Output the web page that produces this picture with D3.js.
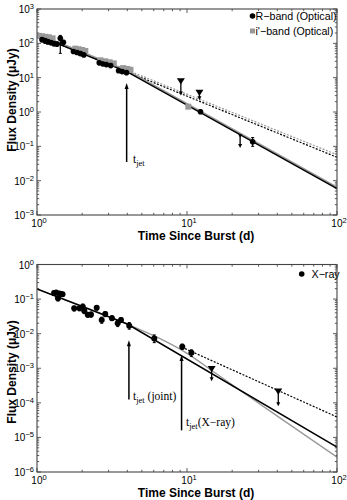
<!DOCTYPE html>
<html><head><meta charset="utf-8">
<script src="https://cdn.jsdelivr.net/npm/d3@7"></script>
<style>body{margin:0;background:#fff}svg{display:block}</style>
</head><body>
<script>
// ---------- Top panel data (optical) ----------
const rTime = [1.08,1.13,1.18,1.24,1.30,1.36,1.43,1.50, 1.75,1.85,1.95,2.05, 2.6,2.75,2.9,3.1, 3.5,3.7,3.95, 12.3, 27.4];
const rFlux = [128,120,112,105,98,95,140,108, 58,54,50,46, 27,25,24,22.5, 16,15,14, 1.02, 0.136];
const rErrLo = [110,100,95,90,85,82,51,95, 52,48,45,42, 24,22.5,21.5,20, 14.5,13.5,12.5, 0.9, 0.1];
const rErrHi = [145,138,128,120,112,108,170,122, 64,60,55,51, 30,28,26.5,25, 17.5,16.5,15.5, 1.15, 0.18];
const iTime = [1.03,1.08,1.14,1.2,1.27, 1.8,1.9,2.0,2.1, 2.65,2.85,3.05,3.25, 3.75,4.0,4.2, 10.2];
const iFlux = [165,160,155,150,140, 70,67,64,60, 32,30,28,26, 19,18,17, 1.43];
const rLimTime = [9.1, 12.1, 22.6];
const rLimFlux = [7.6, 3.5, 0.2];
const rLimArrow = [3.0, 2.2, 0.09];
const rFitTime = [1, 4, 100],  rFitFlux = [174, 14.8, 0.0059];
const iFitTime = [1, 4, 100],  iFitFlux = [191, 16.3, 0.0065];
const rDotTime = [1, 100],     rDotFlux = [174, 0.048];
const iDotTime = [1, 100],     iDotFlux = [191, 0.057];
const topJet = {t: 3.96, from: 0.035, to: 7};

// ---------- Bottom panel data (X-ray) ----------
const xTime = [1.30,1.34,1.38,1.41,1.45,1.48, 1.77,1.92,2.02,2.07,2.18,2.29, 2.5,2.7,2.85,3.16,3.45,3.63,4.12, 6.05, 9.3, 10.7];
const xFlux = [0.15,0.156,0.105,0.146,0.14,0.137, 0.054,0.054,0.060,0.045,0.035,0.036, 0.056,0.025,0.037,0.028,0.020,0.025,0.017, 0.0072, 0.0042, 0.0028];
const xErrLo = [0.13,0.14,0.088,0.13,0.125,0.12, 0.045,0.046,0.045,0.038,0.03,0.03, 0.048,0.02,0.031,0.024,0.016,0.021,0.0135, 0.0055, 0.0035, 0.0022];
const xErrHi = [0.17,0.172,0.12,0.162,0.155,0.152, 0.062,0.062,0.072,0.052,0.041,0.042, 0.064,0.03,0.043,0.033,0.024,0.029,0.021, 0.0092, 0.005, 0.0034];
const xLimTime = [14.6, 40.6];
const xLimFlux = [0.00092, 0.000205];
const xLimArrow = [0.00042, 0.00008];
const jointFitTime = [1, 4, 100],   jointFitFlux = [0.195, 0.019, 5.25e-6];
const xrayFitTime = [1, 3.98, 6.31, 10, 15.8, 39.8, 100];
const xrayFitFlux = [0.195, 0.019, 0.0079, 0.0027, 0.00068, 4.2e-5, 2.7e-6];
const xDotTime = [9.7, 100],        xDotFlux = [0.0037, 3.9e-5];
const jointJet = {t: 4.1, from: 1.24e-4, to: 0.0065};
const xrayJet = {t: 9.2, from: 1.6e-5, to: 0.0024};

const xTicks = [1, 10, 100];

const W = 347, H = 500;
const svg = d3.select("body").append("svg").attr("width", W).attr("height", H)
  .style("font-family", "Liberation Sans, Arial, sans-serif");

function powLabel(sel, e) {
  sel.append("tspan").text("10");
  sel.append("tspan").attr("dy", -4).attr("font-size", 7.5)
    .text(String(e).replace("-", "\u2212"));
}

function drawPanel(cfg) {
  const x = d3.scaleLog().domain([1, 100]).range([37, 337]);
  const y = d3.scaleLog().domain(cfg.yDom).range([cfg.y1, cfg.y0]);
  const g = svg.append("g");
  const clipId = "clip" + cfg.id;
  svg.append("clipPath").attr("id", clipId).append("rect")
    .attr("x", 37).attr("y", cfg.y0).attr("width", 300).attr("height", cfg.y1 - cfg.y0);

  // ticks (inside, all four sides)
  const tk = g.append("g").attr("stroke", "#333").attr("stroke-width", 0.8);
  x.ticks().forEach(v => {
    const major = Math.abs(Math.log10(v) - Math.round(Math.log10(v))) < 1e-9;
    const L = major ? 4 : 2.2, px = x(v);
    tk.append("line").attr("x1", px).attr("x2", px).attr("y1", cfg.y1).attr("y2", cfg.y1 - L);
    tk.append("line").attr("x1", px).attr("x2", px).attr("y1", cfg.y0).attr("y2", cfg.y0 + L);
  });
  y.ticks().forEach(v => {
    const major = Math.abs(Math.log10(v) - Math.round(Math.log10(v))) < 1e-9;
    const L = major ? 4 : 2.2, py = y(v);
    tk.append("line").attr("y1", py).attr("y2", py).attr("x1", 37).attr("x2", 37 + L);
    tk.append("line").attr("y1", py).attr("y2", py).attr("x1", 337).attr("x2", 337 - L);
  });

  // tick labels
  xTicks.forEach(v => {
    const t = g.append("text").attr("x", x(v) + 2).attr("y", cfg.y1 + 12)
      .attr("text-anchor", "middle").attr("font-size", 10);
    powLabel(t, Math.round(Math.log10(v)));
  });
  cfg.yTicks.forEach(v => {
    const t = g.append("text").attr("x", 34).attr("y", y(v) + 4)
      .attr("text-anchor", "end").attr("font-size", 10);
    powLabel(t, Math.round(Math.log10(v)));
  });

  // axis titles
  g.append("text").attr("x", 196).attr("y", cfg.y1 + 25).attr("text-anchor", "middle")
    .attr("font-size", 12).attr("font-weight", "bold").text("Time Since Burst (d)");
  g.append("text").attr("transform", `translate(15.5,${cfg.ylabY}) rotate(-90)`)
    .attr("text-anchor", "middle").attr("font-size", 12).attr("font-weight", "bold")
    .text("Flux Density (\u03bcJy)");

  const plot = g.append("g").attr("clip-path", `url(#${clipId})`);
  const line = d3.line().x(d => x(d[0])).y(d => y(d[1]));
  const lineSmooth = d3.line().x(d => x(d[0])).y(d => y(d[1])).curve(d3.curveMonotoneX);
  cfg.lines.forEach(L => {
    const pts = L.t.map((t, i) => [t, L.f[i]]);
    plot.append("path").attr("d", (L.smooth ? lineSmooth : line)(pts)).attr("fill", "none")
      .attr("stroke", L.color).attr("stroke-width", L.w)
      .attr("stroke-dasharray", L.dash || null);
  });

  // error bars + markers
  cfg.series.forEach(S => {
    S.t.forEach((t, i) => {
      if (S.lo) {
        plot.append("line").attr("x1", x(t)).attr("x2", x(t)).attr("y1", y(S.lo[i])).attr("y2", y(S.hi[i]))
          .attr("stroke", S.color).attr("stroke-width", 1.2);
        [S.lo[i], S.hi[i]].forEach(v => plot.append("line").attr("x1", x(t) - 1.5).attr("x2", x(t) + 1.5)
          .attr("y1", y(v)).attr("y2", y(v)).attr("stroke", S.color).attr("stroke-width", 1));
      }
      if (S.shape === "circle") {
        plot.append("circle").attr("cx", x(t)).attr("cy", y(S.f[i])).attr("r", S.r).attr("fill", S.color);
      } else {
        plot.append("rect").attr("x", x(t) - S.r).attr("y", y(S.f[i]) - S.r)
          .attr("width", 2 * S.r).attr("height", 2 * S.r).attr("fill", S.color);
      }
    });
  });

  // upper limits
  cfg.limits.forEach(U => {
    U.t.forEach((t, i) => {
      const px = x(t), py = y(U.f[i]), pe = y(U.arrow[i]);
      const s = U.size[i];
      plot.append("line").attr("x1", px).attr("x2", px).attr("y1", py).attr("y2", pe - 3)
        .attr("stroke", "#000").attr("stroke-width", 1.3);
      plot.append("path").attr("d", `M${px - 2},${pe - 4}L${px + 2},${pe - 4}L${px},${pe}Z`).attr("fill", "#000");
      plot.append("path").attr("d", `M${px - s},${py - s * 0.9}L${px + s},${py - s * 0.9}L${px},${py + s * 0.7}Z`).attr("fill", "#000");
    });
  });

  // t_jet arrows
  cfg.jets.forEach(J => {
    const px = x(J.t), yb = y(J.from), yt = y(J.to);
    g.append("line").attr("x1", px).attr("x2", px).attr("y1", yb).attr("y2", yt + 5)
      .attr("stroke", "#000").attr("stroke-width", 1.5);
    g.append("path").attr("d", `M${px - 2},${yt + 6}L${px + 2},${yt + 6}L${px},${yt}Z`).attr("fill", "#000");
    const t = g.append("text").attr("x", J.lx).attr("y", J.ly)
      .attr("font-family", "Liberation Serif, Times New Roman, serif").attr("font-size", 11.5);
    t.append("tspan").text("t");
    t.append("tspan").attr("dy", 3).attr("font-size", 8.5).text("jet");
    if (J.suffix) t.append("tspan").attr("dy", -3).text(J.suffix);
  });

  // legend
  cfg.legend.forEach(Lg => {
    if (Lg.shape === "circle") g.append("circle").attr("cx", Lg.mx).attr("cy", Lg.y).attr("r", 2.8).attr("fill", Lg.color);
    else g.append("rect").attr("x", Lg.mx - 2.5).attr("y", Lg.y - 2.5).attr("width", 5).attr("height", 5).attr("fill", Lg.color);
    g.append("text").attr("x", Lg.tx).attr("y", Lg.y + 3.8).attr("font-size", 10.7).text(Lg.label);
  });

  // frame
  g.append("rect").attr("x", 37).attr("y", cfg.y0).attr("width", 300).attr("height", cfg.y1 - cfg.y0)
    .attr("fill", "none").attr("stroke", "#444").attr("stroke-width", 1.1);
}

drawPanel({
  id: "top", y0: 9, y1: 215, yDom: [1e-3, 1e3], ylabY: 100,
  yTicks: [1e-3, 1e-2, 1e-1, 1, 10, 100, 1000],
  lines: [
    {t: iDotTime, f: iDotFlux, color: "#999", w: 1.2, dash: "2,1.5"},
    {t: rDotTime, f: rDotFlux, color: "#000", w: 1.2, dash: "2,1.5"},
    {t: iFitTime, f: iFitFlux, color: "#999", w: 1.5},
    {t: rFitTime, f: rFitFlux, color: "#000", w: 1.5}
  ],
  series: [
    {t: iTime, f: iFlux, color: "#999", shape: "square", r: 3},
    {t: rTime, f: rFlux, lo: rErrLo, hi: rErrHi, color: "#000", shape: "circle", r: 2.8}
  ],
  limits: [{t: rLimTime, f: rLimFlux, arrow: rLimArrow, size: [4, 4, 2]}],
  jets: [{t: topJet.t, from: topJet.from, to: topJet.to, lx: 133, ly: 163}],
  legend: [
    {shape: "circle", color: "#000", mx: 252.5, tx: 255.5, y: 16, label: "R\u2212band (Optical)"},
    {shape: "square", color: "#999", mx: 252.5, tx: 255.5, y: 31, label: "i'\u2212band (Optical)"}
  ]
});

drawPanel({
  id: "bot", y0: 264.5, y1: 472, yDom: [1e-6, 1], ylabY: 372,
  yTicks: [1e-6, 1e-5, 1e-4, 1e-3, 1e-2, 1e-1, 1],
  lines: [
    {t: xDotTime, f: xDotFlux, color: "#000", w: 1.2, dash: "2,1.5"},
    {t: xrayFitTime, f: xrayFitFlux, color: "#999", w: 1.4, smooth: true},
    {t: jointFitTime, f: jointFitFlux, color: "#000", w: 1.5}
  ],
  series: [
    {t: xTime, f: xFlux, lo: xErrLo, hi: xErrHi, color: "#000", shape: "circle", r: 3}
  ],
  limits: [{t: xLimTime, f: xLimFlux, arrow: xLimArrow, size: [4, 4]}],
  jets: [
    {t: jointJet.t, from: jointJet.from, to: jointJet.to, lx: 133, ly: 400, suffix: " (joint)"},
    {t: xrayJet.t, from: xrayJet.from, to: xrayJet.to, lx: 186, ly: 426, suffix: "(X\u2212ray)"}
  ],
  legend: [
    {shape: "circle", color: "#000", mx: 301.7, tx: 311.5, y: 274, label: "X\u2212ray"}
  ]
});
</script>
</body></html>
